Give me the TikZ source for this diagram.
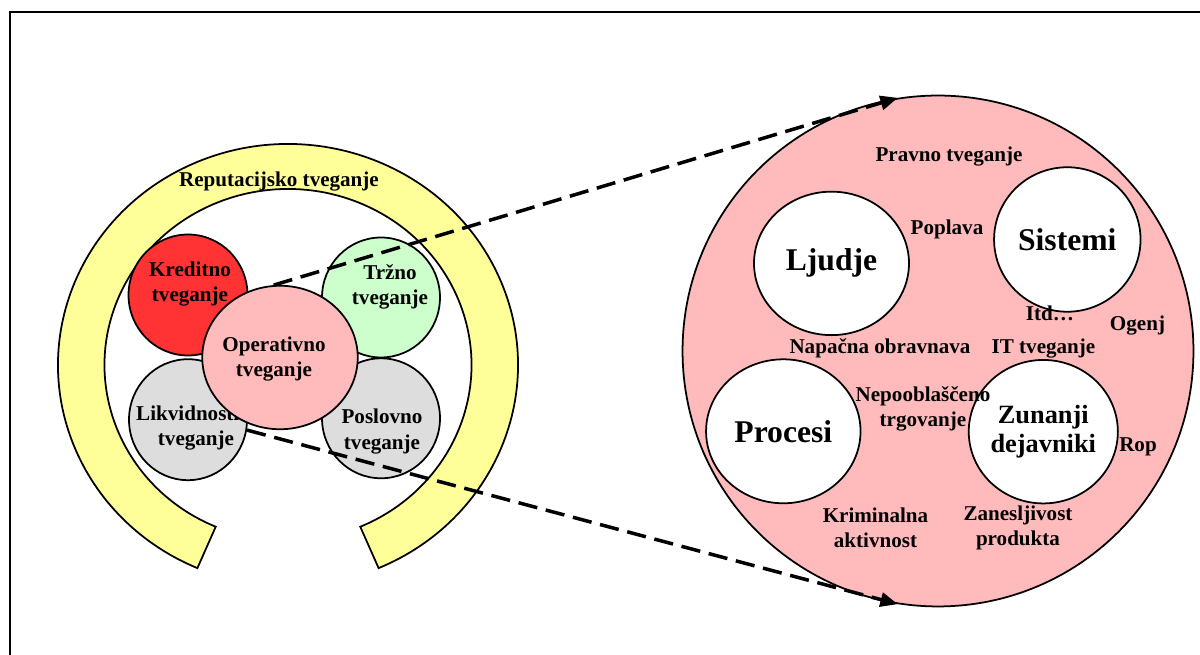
\documentclass[tikz,border=0pt]{standalone}
\usepackage{fontspec}
\setmainfont{Liberation Serif}
\usetikzlibrary{shapes.geometric,arrows.meta,calc}
\definecolor{ringyellow}{HTML}{FFFF99}
\definecolor{credred}{HTML}{FF3333}
\definecolor{mktgreen}{HTML}{CCFFCC}
\definecolor{liqgray}{HTML}{DDDDDD}
\definecolor{oppink}{HTML}{FFBBBB}
\begin{document}
\begin{tikzpicture}[x=0.02cm, y=0.02cm,
  blob/.style={ellipse, draw, line width=1pt, inner sep=0pt},
  lbl/.style={font=\fontsize{12}{14.5}\selectfont\bfseries, align=center, inner sep=0pt},
  biglbl/.style={font=\fontsize{18}{20}\selectfont\bfseries, align=center},
  link/.style={line width=2pt, dash pattern=on 11pt off 5pt,
    -{Triangle[length=10pt,width=8pt]}}]
  \useasboundingbox (0,0) rectangle (1200,655);
  % Frame, cut off at right and bottom
  \draw[line width=1.2pt] (10.2,-10) |- (1210,643.2);
  % Reputation ring
  \coordinate (rc) at (288,290);
  \draw[line width=1pt, fill=ringyellow]
    ($(rc)+(-66.8:230 and 221)$)
    arc[start angle=-66.8, end angle=246.8, x radius=230, y radius=221]
    -- ($(rc)+(246.8:183.5 and 176)$)
    arc[start angle=246.8, end angle=-66.8, x radius=183.5, y radius=176]
    -- cycle;
  \node[lbl] (reptxt) at (279,473.5) {Reputacijsko tveganje};
  % Four risks round the operational one
  \node[blob, fill=credred, minimum width=2.38cm, minimum height=2.42cm] (kred) at (188,360) {};
  \node[lbl] (kredtxt) at (190,371) {Kreditno\\tveganje};
  \node[blob, fill=mktgreen, minimum width=2.36cm, minimum height=2.4cm] (trzn) at (381,357.5) {};
  \node[lbl] (trzntxt) at (390,368) {Tržno\\tveganje};
  \node[blob, fill=liqgray, minimum width=2.36cm, minimum height=2.42cm] (likv) at (188,235.3) {};
  \node[lbl] (likvtxt) at (196,227) {Likvidnostno\\tveganje};
  \node[blob, fill=liqgray, minimum width=2.36cm, minimum height=2.4cm] (posl) at (381,236.7) {};
  \node[lbl] (posltxt) at (382,223.3) {Poslovno\\tveganje};
  % Operational risk on top
  \node[blob, fill=oppink, minimum width=3.11cm, minimum height=2.87cm] (oper) at (280,297.5) {};
  \node[lbl] (opertxt) at (274,296) {Operativno\\tveganje};
  % Big circle with the sources
  \node[blob, fill=oppink, minimum size=10.22cm] (risk) at (938,304) {};
  \node[blob, biglbl, fill=white, minimum width=3.1cm, minimum height=2.87cm] (ljud) at (831.5,391.6) {Ljudje};
  \node[blob, biglbl, fill=white, minimum width=2.93cm, minimum height=2.89cm] (sist) at (1067.3,415.5) {Sistemi};
  \node[blob, biglbl, fill=white, minimum width=3.09cm, minimum height=2.88cm] (proc) at (783.3,223.7) {Procesi};
  \node[blob, biglbl, font=\fontsize{15}{16.5}\selectfont\bfseries, fill=white,
    minimum width=2.93cm, minimum height=2.87cm] (zuna) at (1043.3,223.3) {Zunanji\\dejavniki};
  % Loose labels
  \node[lbl] (prav) at (949,498) {Pravno tveganje};
  \node[lbl] (popl) at (947,426) {Poplava};
  \node[lbl] (itd) at (1050,342) {Itd…};
  \node[lbl] (ogen) at (1137.5,329) {Ogenj};
  \node[lbl] (napa) at (880,306.5) {Napačna obravnava};
  \node[lbl] (itrisk) at (1043.5,306.5) {IT tveganje};
  \node[lbl] (nepo) at (923,246) {Nepooblaščeno\\trgovanje};
  \node[lbl] (rop) at (1138,208.5) {Rop};
  \node[lbl] (krim) at (875.5,127) {Kriminalna\\aktivnost};
  \node[lbl] (zane) at (1018,127) {Zanesljivost\\produkta};
  % Zoom arrows
  \draw[link] (oper.95) -- (risk.99);
  \draw[link] (likv.-10) -- (risk.-99);
\end{tikzpicture}
\end{document}
